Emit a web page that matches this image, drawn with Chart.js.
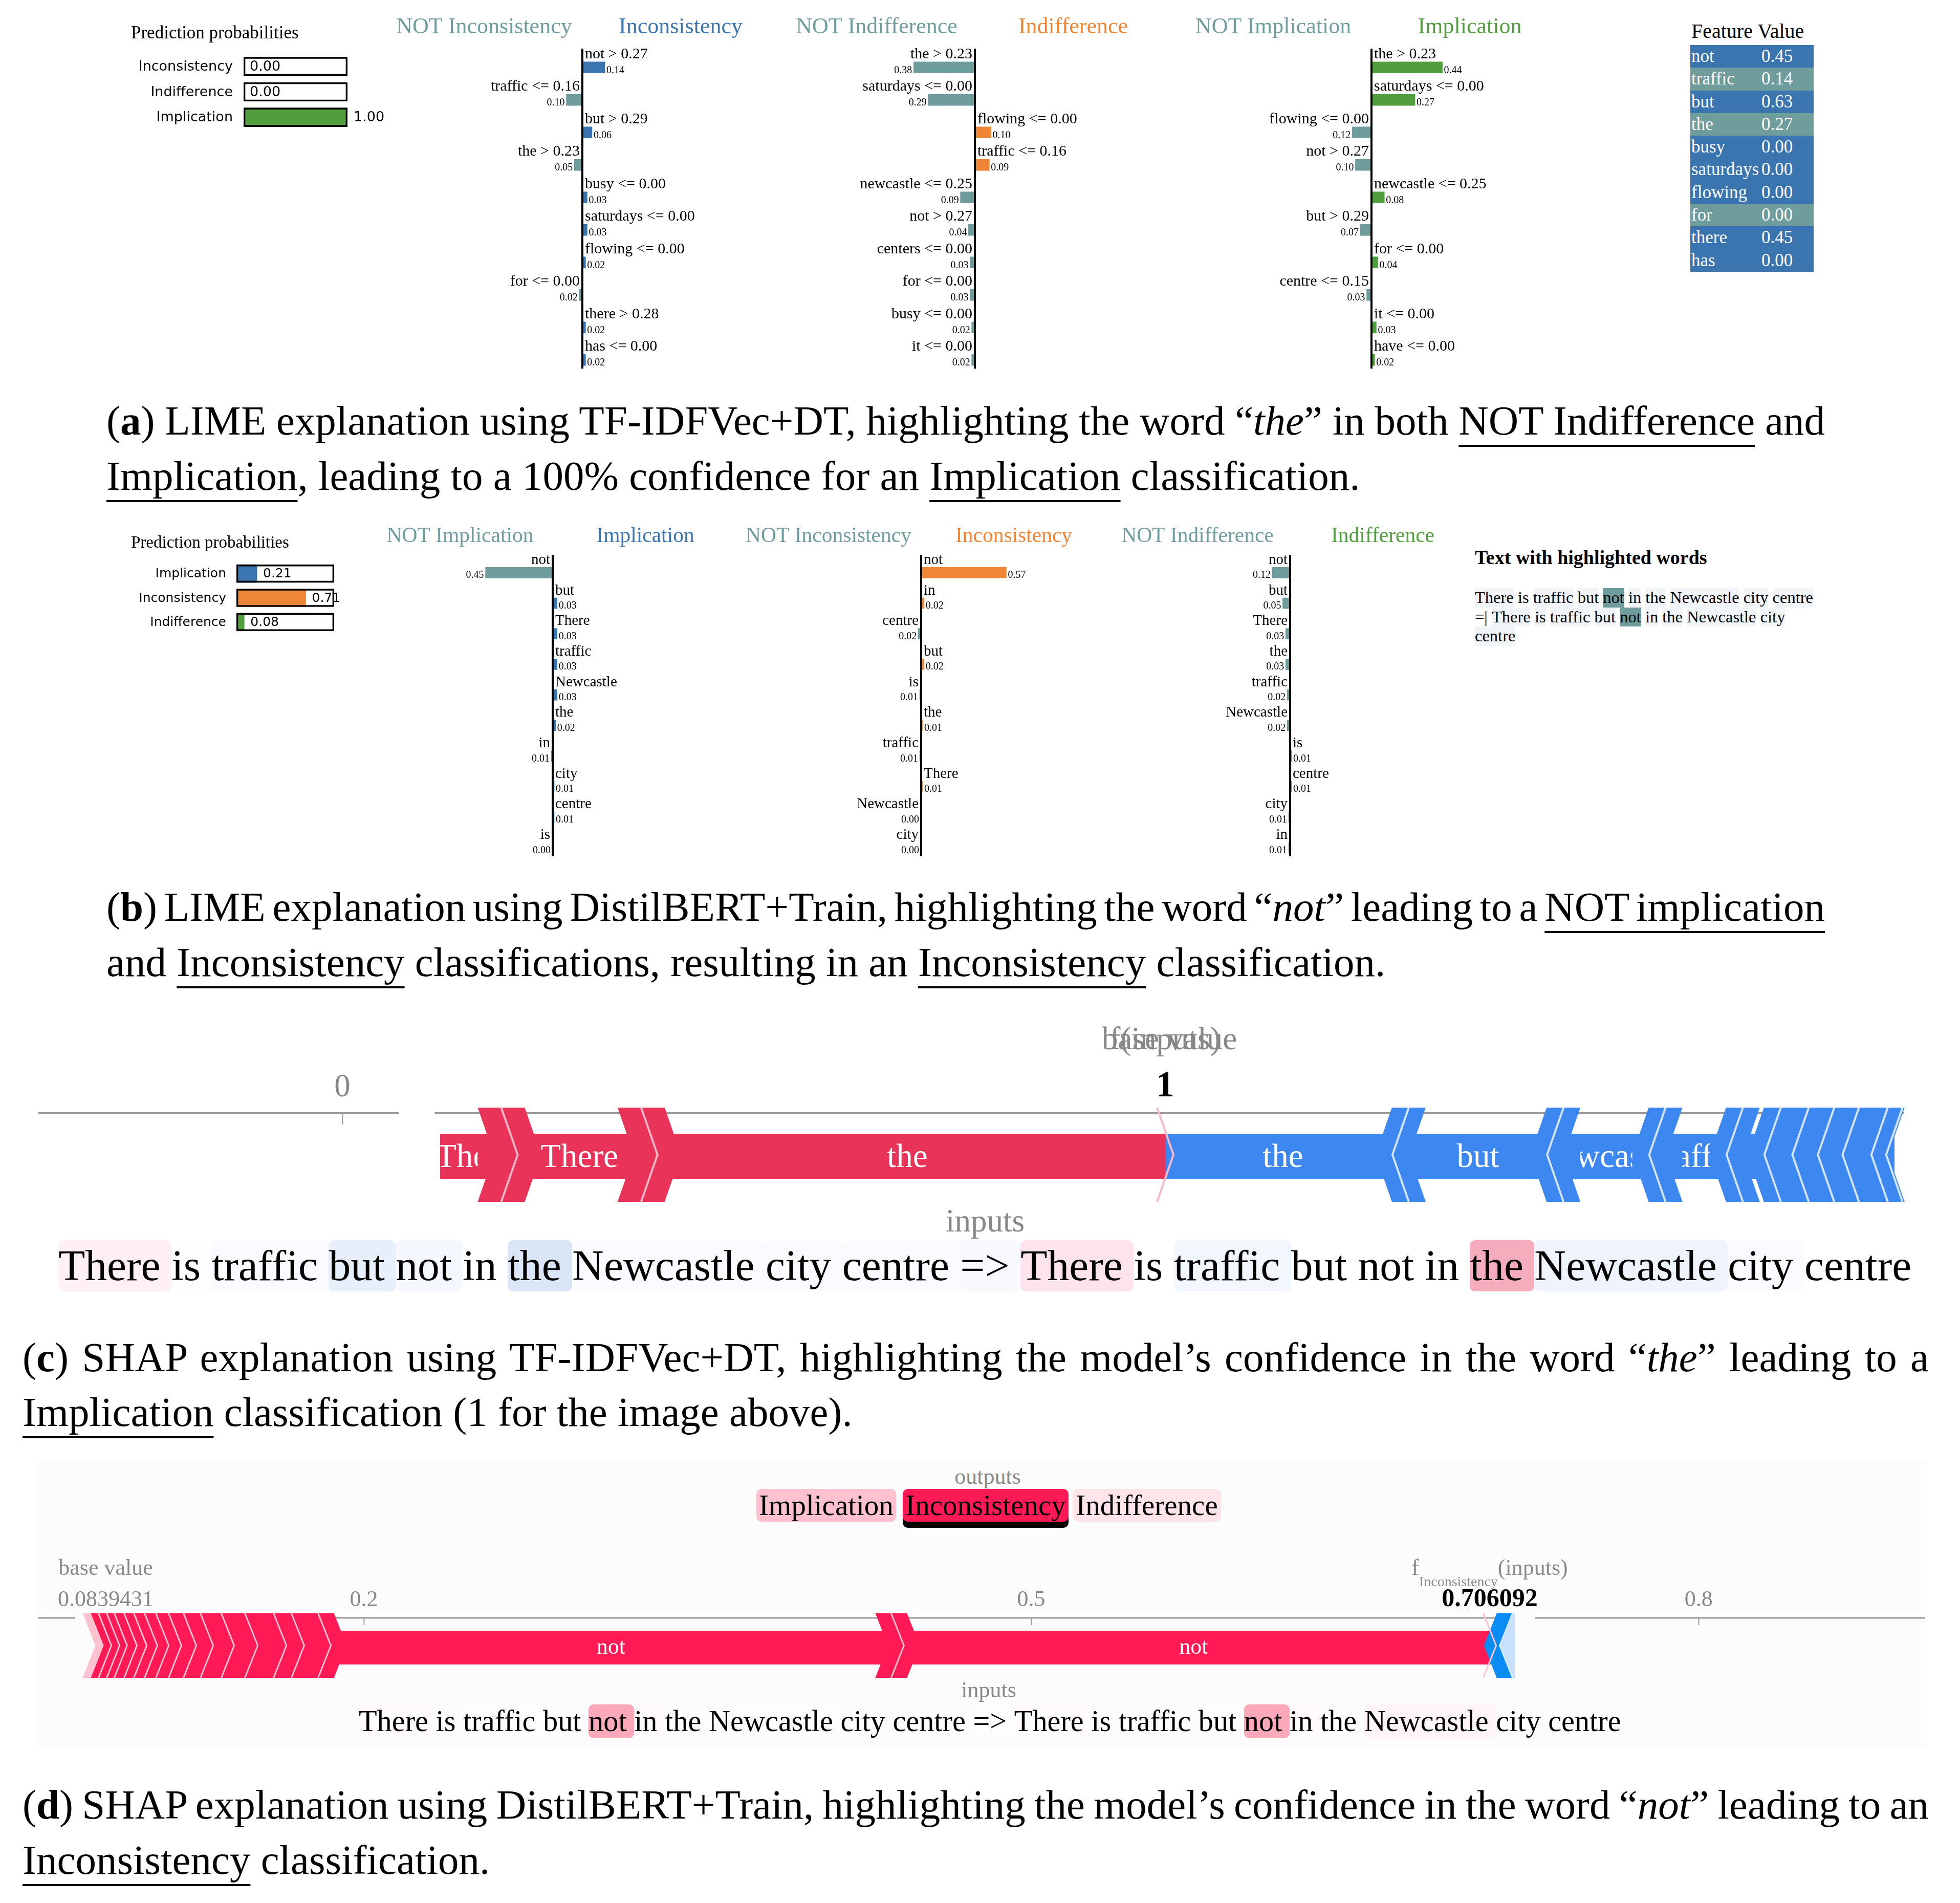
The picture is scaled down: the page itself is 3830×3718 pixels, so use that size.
<!DOCTYPE html>
<html>
<head>
<meta charset="utf-8">
<title>LIME and SHAP explanations</title>
<script src="https://cdn.jsdelivr.net/npm/chart.js@4.4.1/dist/chart.umd.min.js"></script>
<style>
  html, body { margin: 0; padding: 0; background: #fff; }
  body { position: relative; width: 3830px; height: 3718px; overflow: hidden;
         font-family: "Liberation Serif", "Times New Roman", serif; color: #000; }
  canvas { position: absolute; }
  .abs { position: absolute; white-space: nowrap; }
  .cap { position: absolute; white-space: nowrap; font-size: 81px; line-height: 80px; }
  .cap u { text-decoration-thickness: 4px; text-underline-offset: 20px; }
  #featTitle { font-size: 40px; line-height: 40px; }
  #featTable { position: absolute; left: 3303px; top: 88px; width: 241px; color: #fff; font-size: 35px; }
  #featTable div { height: 44.3px; line-height: 44.3px; position: relative; padding-left: 2px; }
  #featTable span { position: absolute; left: 139px; }
  #hlTitle { font-weight: bold; font-size: 38px; line-height: 38px; }
  #hlText { font-size: 32.5px; line-height: 37.5px; }
  #hlText span { display: inline-block; height: 37.5px; }
  .hb { background: #f2f5f8; }
  .hn { background: #6f9c9d; }
  .tok { display: inline-block; white-space: pre; border-radius: 10px; }
  #shapTextC .tok { height: 100px; line-height: 100px; }
  #shapTextD .tok { height: 66px; line-height: 66px; }
  .gray { color: #888; }
  .outBtn { position: absolute; top: 2909px; height: 64px; line-height: 64px; font-size: 57px;
            text-align: center; border-radius: 10px; }
</style>
</head>
<body>

<!-- (a) -->
<canvas id="probA" width="503" height="214" style="left:256px;top:40px"></canvas>
<canvas id="limeA1" width="760" height="720" style="left:758px;top:25px"></canvas>
<canvas id="limeA2" width="760" height="720" style="left:1525px;top:25px"></canvas>
<canvas id="limeA3" width="760" height="720" style="left:2300px;top:25px"></canvas>
<div id="featTitle" class="abs" style="left:3305px;top:41px">Feature Value</div>
<div id="featTable"></div>

<div class="cap just" data-cap="a" style="left:208px;top:782px;width:3358px"><span>(<b>a</b>) LIME explanation using TF-IDFVec+DT, highlighting the word “<i>the</i>” in both <u>NOT Indifference</u> and</span></div>
<div class="cap" data-cap="a" style="left:208px;top:890px"><span><u>Implication</u>, leading to a 100% confidence for an <u>Implication</u> classification.</span></div>

<!-- (b) -->
<canvas id="probB" width="477" height="209" style="left:256px;top:1030px"></canvas>
<canvas id="limeB1" width="720" height="680" style="left:720px;top:1020px"></canvas>
<canvas id="limeB2" width="720" height="680" style="left:1440px;top:1020px"></canvas>
<canvas id="limeB3" width="720" height="680" style="left:2161px;top:1020px"></canvas>
<div id="hlTitle" class="abs" style="left:2882px;top:1070px">Text with highlighted words</div>
<div id="hlText" class="abs" style="left:2882px;top:1149px"><span class="hb">There</span> is <span class="hb">traffic</span> <span class="hb">but</span> <span class="hn">not</span> <span class="hb">in</span> <span class="hb">the</span> <span class="hb">Newcastle</span> <span class="hb">city</span> <span class="hb">centre</span><br>=| <span class="hb">There</span> <span class="hb">is</span> <span class="hb">traffic</span> <span class="hb">but</span> <span class="hn">not</span> <span class="hb">in</span> <span class="hb">the</span> <span class="hb">Newcastle</span> <span class="hb">city</span><br><span class="hb">centre</span></div>

<div class="cap just" data-cap="b" style="left:208px;top:1732px;width:3358px"><span>(<b>b</b>) LIME explanation using DistilBERT+Train, highlighting the word “<i>not</i>” leading to a <u>NOT implication</u></span></div>
<div class="cap" data-cap="b" style="left:208px;top:1840px"><span>and <u>Inconsistency</u> classifications, resulting in an <u>Inconsistency</u> classification.</span></div>

<!-- (c) -->
<canvas id="shapC" width="3830" height="380" style="left:0;top:1990px"></canvas>
<div class="abs gray" style="left:1925px;top:2354px;font-size:63px;line-height:63px;transform:translateX(-50%)">inputs</div>
<div id="shapTextC" class="abs" style="left:114px;top:2423px;font-size:79px"><span class="tok" style="background:#fff0f3">There </span><span class="tok" style="background:#fdfdff">is </span><span class="tok" style="background:#f9fbfe">traffic </span><span class="tok" style="background:#e7effb">but </span><span class="tok" style="background:#f4f7fd">not </span><span class="tok">in </span><span class="tok" style="background:#dae6f8">the </span><span class="tok" style="background:#f9fbfe">Newcastle </span><span class="tok" style="background:#fafbfe">city </span><span class="tok" style="background:#fafbfe">centre </span><span class="tok" style="background:#f7f9fe">=&gt; </span><span class="tok" style="background:#fde4eb">There </span><span class="tok">is </span><span class="tok" style="background:#f2f6fd">traffic </span><span class="tok">but </span><span class="tok">not </span><span class="tok">in </span><span class="tok" style="background:#f5adbd">the </span><span class="tok" style="background:#eef3fc">Newcastle </span><span class="tok" style="background:#f9fbfe">city </span><span class="tok">centre</span></div>

<div class="cap just" data-cap="c" style="left:44px;top:2612px;width:3725px"><span>(<b>c</b>) SHAP explanation using TF-IDFVec+DT, highlighting the model’s confidence in the word “<i>the</i>” leading to a</span></div>
<div class="cap" data-cap="c" style="left:44px;top:2719px"><span><u>Implication</u> classification (1 for the image above).</span></div>

<!-- (d) -->
<div class="abs" style="left:75px;top:2852px;width:3690px;height:563px;background:#fcfcfc"></div>
<div class="abs gray" style="left:1930px;top:2863px;font-size:44px;line-height:44px;transform:translateX(-50%)">outputs</div>
<div class="outBtn" style="left:1478px;width:273px;background:#ffc1cd">Implication</div>
<div class="outBtn" style="left:1764px;width:324px;background:#ff1a55;box-shadow:0 12px 0 0 #000">Inconsistency</div>
<div class="outBtn" style="left:2096px;width:290px;background:#ffe4ea">Indifference</div>
<canvas id="shapD" width="3830" height="300" style="left:0;top:3000px"></canvas>
<div class="abs gray" style="left:1932px;top:3280px;font-size:44px;line-height:44px;transform:translateX(-50%)">inputs</div>
<div id="shapTextD" class="abs" style="left:701px;top:3329px;font-size:54px"><span class="tok" style="background:#fffbfc">There </span><span class="tok">is </span><span class="tok" style="background:#fffcfd">traffic </span><span class="tok">but </span><span class="tok" style="background:#fba8ba">not </span><span class="tok" style="background:#fffafb">in </span><span class="tok">the </span><span class="tok" style="background:#fffcfd">Newcastle </span><span class="tok">city </span><span class="tok">centre </span><span class="tok" style="background:#fffcfd">=&gt; </span><span class="tok" style="background:#fffafb">There </span><span class="tok">is </span><span class="tok">traffic </span><span class="tok" style="background:#fffcfd">but </span><span class="tok" style="background:#fba8ba">not </span><span class="tok" style="background:#fffafb">in </span><span class="tok">the </span><span class="tok" style="background:#fff5f7">Newcastle </span><span class="tok">city </span><span class="tok">centre</span></div>

<div class="cap just" data-cap="d" style="left:44px;top:3486px;width:3725px"><span>(<b>d</b>) SHAP explanation using DistilBERT+Train, highlighting the model’s confidence in the word “<i>not</i>” leading to an</span></div>
<div class="cap" data-cap="d" style="left:44px;top:3594px"><span><u>Inconsistency</u> classification.</span></div>

<script>
// ---------- (a) LIME, TF-IDFVec+DT ----------
const probA_classes = ["Inconsistency", "Indifference", "Implication"];
const probA_values = [0.00, 0.00, 1.00];

const limeA1_features = ["not > 0.27", "traffic <= 0.16", "but > 0.29", "the > 0.23", "busy <= 0.00",
                         "saturdays <= 0.00", "flowing <= 0.00", "for <= 0.00", "there > 0.28", "has <= 0.00"];
const limeA1_values = [0.14, -0.10, 0.06, -0.05, 0.03, 0.03, 0.02, -0.02, 0.02, 0.02];

const limeA2_features = ["the > 0.23", "saturdays <= 0.00", "flowing <= 0.00", "traffic <= 0.16", "newcastle <= 0.25",
                         "not > 0.27", "centers <= 0.00", "for <= 0.00", "busy <= 0.00", "it <= 0.00"];
const limeA2_values = [-0.38, -0.29, 0.10, 0.09, -0.09, -0.04, -0.03, -0.03, -0.02, -0.02];

const limeA3_features = ["the > 0.23", "saturdays <= 0.00", "flowing <= 0.00", "not > 0.27", "newcastle <= 0.25",
                         "but > 0.29", "for <= 0.00", "centre <= 0.15", "it <= 0.00", "have <= 0.00"];
const limeA3_values = [0.44, 0.27, -0.12, -0.10, 0.08, -0.07, 0.04, -0.03, 0.03, 0.02];

const tableA_features = ["not", "traffic", "but", "the", "busy", "saturdays", "flowing", "for", "there", "has"];
const tableA_values = [0.45, 0.14, 0.63, 0.27, 0.00, 0.00, 0.00, 0.00, 0.45, 0.00];

// ---------- (b) LIME, DistilBERT+Train ----------
const probB_classes = ["Implication", "Inconsistency", "Indifference"];
const probB_values = [0.21, 0.71, 0.08];

const limeB1_words = ["not", "but", "There", "traffic", "Newcastle", "the", "in", "city", "centre", "is"];
const limeB1_values = [-0.45, 0.03, 0.03, 0.03, 0.03, 0.02, -0.01, 0.01, 0.01, -0.003];

const limeB2_words = ["not", "in", "centre", "but", "is", "the", "traffic", "There", "Newcastle", "city"];
const limeB2_values = [0.57, 0.02, -0.02, 0.02, -0.01, 0.01, -0.01, 0.01, -0.003, -0.003];

const limeB3_words = ["not", "but", "There", "the", "traffic", "Newcastle", "is", "centre", "city", "in"];
const limeB3_values = [-0.12, -0.05, -0.03, -0.03, -0.02, -0.02, 0.01, 0.01, -0.01, -0.01];

// ---------- (c) SHAP force plot, TF-IDFVec+DT ----------
const shapC_output = 1;
const shapC_posTokens = ["There", "There", "the"];                  // red, left to right
const shapC_posValues = [0.084, 0.170, 0.627];
const shapC_negTokens = ["the", "but", "Newcastle", "traffic", "city", "centre", "is", "in", "not", "There"]; // blue, from f(x) rightwards
const shapC_negValues = [0.286, 0.188, 0.124, 0.094, 0.046, 0.034, 0.031, 0.030, 0.035, 0.018];
const shapC_ticks = [0];

// ---------- (d) SHAP force plot, DistilBERT+Train ----------
const shapD_base = 0.0839431;
const shapD_output = 0.706092;
const shapD_posTokens = ["There", "traffic", "but", "in", "the", "Newcastle", "city", "centre", "=>",
                         "There", "is", "traffic", "but", "in", "the", "not", "not"];
const shapD_posValues = [0.0041, 0.0037, 0.0034, 0.0044, 0.0044, 0.0048, 0.0051, 0.0057, 0.0067,
                         0.0076, 0.0094, 0.0106, 0.0129, 0.0080, 0.0120, 0.2576, 0.2662];
const shapD_negTokens = ["Newcastle", "city"];
const shapD_negValues = [0.0074, 0.0039];
const shapD_ticks = [0.2, 0.5, 0.8];

// ---------- styles ----------
const C_NOT = "#6f9c9d", C_BLUE = "#3b75af", C_ORANGE = "#ef8636", C_GREEN = "#529e3f";
const SERIF = '"Liberation Serif", "Times New Roman", serif';

Chart.defaults.animation = false;
Chart.defaults.responsive = false;
Chart.defaults.devicePixelRatio = 1;
Chart.defaults.events = [];
Chart.defaults.font.family = SERIF;
Chart.defaults.plugins.legend.display = false;
Chart.defaults.plugins.tooltip.enabled = false;


// Prediction probabilities
function probChart(id, classes, values, colors, o) {
    new Chart(document.getElementById(id), {
        type: 'bar',
        data: {
            labels: classes,
            datasets: [
                { data: values, backgroundColor: colors, borderWidth: 0, barThickness: o.barH, grouped: false, order: 2 },
                { data: classes.map(function () { return 1; }), backgroundColor: 'rgba(0,0,0,0)', borderColor: '#000',
                  borderWidth: 3, borderSkipped: false, barThickness: o.barH, grouped: false, order: 1 }
            ]
        },
        options: {
            indexAxis: 'y',
            layout: { padding: { top: o.padTop, right: o.padRight, bottom: 0, left: o.axisW } },
            scales: { x: { display: false, min: 0, max: 1 }, y: { display: false } }
        },
        plugins: [{
            id: 'probText',
            afterDatasetsDraw: function (chart) {
                const ctx = chart.ctx;
                const left = chart.chartArea.left;
                ctx.save();
                ctx.fillStyle = '#000';
                ctx.textAlign = 'left';
                ctx.textBaseline = 'middle';
                ctx.font = o.titleSize + 'px ' + SERIF;
                ctx.fillText('Prediction probabilities', 0, o.titleY);
                ctx.font = o.labelSize + 'px "DejaVu Sans"';
                chart.getDatasetMeta(0).data.forEach(function (bar, i) {
                    ctx.textAlign = 'right';
                    ctx.fillText(classes[i], left - o.tickPad, bar.y + 1);
                    ctx.textAlign = 'left';
                    ctx.fillText(values[i].toFixed(2), bar.x + 12, bar.y + 1);
                });
                ctx.restore();
            }
        }]
    });
}


// LIME explanation bars (NOT class on the left, class on the right)
function limeChart(id, labels, values, cls, color, o) {
    const half = o.halfWidth / o.pxPerUnit;
    new Chart(document.getElementById(id), {
        type: 'bar',
        data: {
            labels: labels,
            datasets: [{
                data: values,
                backgroundColor: values.map(function (v) { return v >= 0 ? color : C_NOT; }),
                borderWidth: 0,
                barThickness: o.barH
            }]
        },
        options: {
            indexAxis: 'y',
            layout: { padding: { top: o.padTop, bottom: o.padBottom, left: 0, right: 0 } },
            scales: { x: { display: false, min: -half, max: half }, y: { display: false } }
        },
        plugins: [{
            id: 'limeText',
            afterDatasetsDraw: function (chart) {
                const ctx = chart.ctx;
                const x0 = chart.scales.x.getPixelForValue(0);
                const bars = chart.getDatasetMeta(0).data;
                const last = bars[bars.length - 1];
                const top = chart.chartArea.top - 5;
                ctx.save();
                ctx.fillStyle = '#000';
                ctx.fillRect(x0 - 2, top, 4, last.y + last.height / 2 + 6 - top);

                ctx.textAlign = 'center';
                ctx.textBaseline = 'middle';
                ctx.font = o.headFont + 'px ' + SERIF;
                ctx.fillStyle = C_NOT;
                ctx.fillText('NOT ' + cls, x0 - o.headOffset, o.headY);
                ctx.fillStyle = color;
                ctx.fillText(cls, x0 + o.headOffset, o.headY);

                ctx.fillStyle = '#000';
                ctx.textBaseline = 'alphabetic';
                bars.forEach(function (bar, i) {
                    const pos = values[i] >= 0;
                    ctx.textAlign = pos ? 'left' : 'right';
                    ctx.font = o.labelFont + 'px ' + SERIF;
                    ctx.fillText(labels[i], x0 + (pos ? 5 : -5), bar.y - o.labelRise);
                    ctx.font = '20px ' + SERIF;
                    ctx.fillText(Math.abs(values[i]).toFixed(2), bar.x + (pos ? 3 : -3), bar.y + bar.height / 2);
                });
                ctx.restore();
            }
        }]
    });
}


// SHAP force plot
function shapChart(id, output, posTokens, posValues, negTokens, negValues, ticks, base, o) {
    const sum = function (a) { return a.reduce(function (s, v) { return s + v; }, 0); };
    const sumPos = sum(posValues), sumNeg = sum(negValues);
    if (base === null) base = output - sumPos + sumNeg;

    const pos = [], neg = [];
    let s = output - sumPos;
    posValues.forEach(function (v, i) {
        pos.push({ a: s, b: s + v, tok: posTokens[i], color: (i === 0 && o.posFirst) ? o.posFirst : o.posColor });
        s += v;
    });
    s = output;
    negValues.forEach(function (v, i) {
        neg.push({ a: s, b: s + v, tok: negTokens[i], color: o.negColors[i] || o.negColors[0] });
        s += v;
    });
    const chainStart = output - sumPos, chainEnd = output + sumNeg;
    const segs = pos.concat(neg);
    const hPos = o.stripeW / 2, hNeg = o.negStripeW / 2;

    function halfStripe(ctx, st, right, color, yT, yM, yB) {
        if (!color) return;
        const X = st.X, D = st.D, h = st.h;
        const off = right ? h : 0;
        ctx.fillStyle = color;
        ctx.beginPath();
        ctx.moveTo(X - D / 2 - h + off, yT);
        ctx.lineTo(X - D / 2 + off, yT);
        ctx.lineTo(X + D / 2 + off, yM);
        ctx.lineTo(X - D / 2 + off, yB);
        ctx.lineTo(X - D / 2 - h + off, yB);
        ctx.lineTo(X + D / 2 - h + off, yM);
        ctx.closePath();
        ctx.fill();
    }

    function sepLine(ctx, X, D, color, yT, yM, yB) {
        ctx.strokeStyle = color;
        ctx.lineWidth = o.sepW;
        ctx.beginPath();
        ctx.moveTo(X - D / 2, yT);
        ctx.lineTo(X + D / 2, yM);
        ctx.lineTo(X - D / 2, yB);
        ctx.stroke();
    }

    new Chart(document.getElementById(id), {
        type: 'bar',
        data: {
            labels: [''],
            datasets: segs.map(function (g) {
                return { data: [[g.a, g.b]], backgroundColor: g.color, borderWidth: 0,
                         barPercentage: 1, categoryPercentage: 1, grouped: false };
            })
        },
        options: {
            indexAxis: 'y',
            layout: { padding: { top: o.padTop, bottom: o.padBottom, left: 0, right: 0 } },
            scales: { x: { display: false, min: o.min, max: o.max }, y: { display: false } }
        },
        plugins: [{
            id: 'shapForce',
            beforeDatasetsDraw: function (chart) {
                const ctx = chart.ctx, xs = chart.scales.x;
                const px = function (v) { return xs.getPixelForValue(v); };
                const startPx = px(chainStart), endPx = px(chainEnd);
                let runs = [[o.axisFrom, o.axisTo]];
                o.gaps.forEach(function (g) {
                    const ref = g[0] === 'start' ? startPx : endPx;
                    const ga = ref + g[1], gb = ref + g[2];
                    runs = runs.flatMap(function (r) {
                        const out = [];
                        if (ga > r[0]) out.push([r[0], Math.min(r[1], ga)]);
                        if (gb < r[1]) out.push([Math.max(r[0], gb), r[1]]);
                        return out;
                    });
                });
                ctx.save();
                ctx.strokeStyle = '#999';
                ctx.lineWidth = o.axisW;
                ctx.beginPath();
                runs.forEach(function (r) { ctx.moveTo(r[0], o.axisY); ctx.lineTo(r[1], o.axisY); });
                ctx.stroke();
                ctx.lineWidth = 2;
                ctx.beginPath();
                ticks.forEach(function (t) {
                    const p = Math.round(px(t)) + 0.5;
                    ctx.moveTo(p, o.axisY);
                    ctx.lineTo(p, o.axisY + o.tickLen);
                });
                ctx.stroke();

                ctx.fillStyle = '#888';
                ctx.textAlign = 'center';
                ctx.textBaseline = 'alphabetic';
                ctx.font = o.fontSize + 'px ' + SERIF;
                ticks.forEach(function (t) { ctx.fillText(String(t), px(t), o.tickY); });
                if (o.showBase) ctx.fillText(String(base), px(base), o.tickY);
                ctx.fillText('base value', px(base), o.titleY);

                // f(inputs) label, optionally with a subscript
                const wF = ctx.measureText('f').width, wIn = ctx.measureText('(inputs)').width;
                ctx.font = o.subSize + 'px ' + SERIF;
                const wSub = o.sub ? ctx.measureText(o.sub).width : 0;
                let x = px(output) - (wF + wSub + wIn) / 2;
                ctx.textAlign = 'left';
                ctx.font = o.fontSize + 'px ' + SERIF;
                ctx.fillText('f', x, o.titleY);
                x += wF;
                if (o.sub) {
                    ctx.font = o.subSize + 'px ' + SERIF;
                    ctx.fillText(o.sub, x, o.titleY + o.subDrop);
                    x += wSub;
                    ctx.font = o.fontSize + 'px ' + SERIF;
                }
                ctx.fillText('(inputs)', x, o.titleY);

                ctx.textAlign = 'center';
                ctx.fillStyle = '#000';
                ctx.font = 'bold ' + o.outSize + 'px ' + SERIF;
                ctx.fillText(String(output), px(output), o.tickY);
                ctx.restore();
            },
            afterDatasetsDraw: function (chart) {
                const ctx = chart.ctx, xs = chart.scales.x, area = chart.chartArea;
                const px = function (v) { return xs.getPixelForValue(v); };
                const yT = area.top - o.extTop, yB = area.bottom + o.extBottom, yM = (yT + yB) / 2;
                const stripes = [];
                for (let i = 0; i < pos.length - 1; i++)
                    stripes.push({ X: px(pos[i].b), D: o.tip, h: hPos, L: pos[i].color, R: pos[i + 1].color, sep: o.posSep });
                for (let i = 0; i < neg.length - 1; i++)
                    stripes.push({ X: px(neg[i].b), D: -o.tip, h: hNeg, L: neg[i].color, R: neg[i + 1].color, sep: o.negSep });
                if (o.outerEnd)
                    stripes.push({ X: px(neg[neg.length - 1].b), D: -o.tip, h: hNeg, L: neg[neg.length - 1].color, R: null, sep: o.negSep });

                ctx.save();
                const clipL = px(chainStart) - hPos - o.tip;
                const clipR = o.outerEnd ? chart.width : px(chainEnd);
                ctx.beginPath();
                ctx.rect(clipL, 0, clipR - clipL, chart.height);
                ctx.clip();
                stripes.forEach(function (st) {
                    halfStripe(ctx, st, false, st.L, yT, yM, yB);
                    halfStripe(ctx, st, true, st.R, yT, yM, yB);
                });
                stripes.forEach(function (st) { sepLine(ctx, st.X, st.D, st.sep, yT, yM, yB); });
                sepLine(ctx, px(output), o.tip, o.outSep, yT, yM, yB);
                ctx.restore();

                // feature labels centred on the segment, clipped to its visible part
                const inPos = hPos + o.tip / 2, inNeg = hNeg + o.tip / 2;
                ctx.save();
                ctx.fillStyle = '#fff';
                ctx.textAlign = 'center';
                ctx.textBaseline = 'alphabetic';
                ctx.font = o.labelSize + 'px ' + SERIF;
                const bandMid = (area.top + area.bottom) / 2;
                function label(g, insetL, insetR) {
                    const l = px(g.a) + insetL, r = px(g.b) - insetR;
                    if (r - l < 4) return;
                    ctx.save();
                    ctx.beginPath();
                    ctx.rect(l, area.top, r - l, area.bottom - area.top);
                    ctx.clip();
                    ctx.fillText(g.tok, (px(g.a) + px(g.b)) / 2, bandMid + o.labelSize * o.labelDrop);
                    ctx.restore();
                }
                pos.forEach(function (g, i) {
                    label(g, i > 0 ? inPos : 0, i < pos.length - 1 ? inPos : 0);
                });
                neg.forEach(function (g, i) {
                    label(g, i > 0 ? inNeg : 0, (i < neg.length - 1 || o.outerEnd) ? inNeg : 0);
                });
                ctx.restore();
            }
        }]
    });
}


// ---- (a) ----
probChart('probA', probA_classes, probA_values, [C_BLUE, C_ORANGE, C_GREEN],
          { barH: 37, padTop: 65, padRight: 80, axisW: 220, tickPad: 21, labelSize: 27, titleY: 26, titleSize: 35 });

const limeOptsA = { barH: 22, padTop: 75, padBottom: 10, pxPerUnit: 315, halfWidth: 380,
                    headY: 28, headOffset: 192, headFont: 44, labelFont: 30, labelRise: 18 };
limeChart('limeA1', limeA1_features, limeA1_values, 'Inconsistency', C_BLUE, limeOptsA);
limeChart('limeA2', limeA2_features, limeA2_values, 'Indifference', C_ORANGE, limeOptsA);
limeChart('limeA3', limeA3_features, limeA3_values, 'Implication', C_GREEN, limeOptsA);

// feature value table, rows coloured like the first LIME chart
const table = document.getElementById('featTable');
tableA_features.forEach(function (f, i) {
    const row = document.createElement('div');
    row.style.background = limeA1_values[i] >= 0 ? C_BLUE : C_NOT;
    row.textContent = f;
    const v = document.createElement('span');
    v.textContent = tableA_values[i].toFixed(2);
    row.appendChild(v);
    table.appendChild(row);
});

// ---- (b) ----
probChart('probB', probB_classes, probB_values, [C_BLUE, C_ORANGE, C_GREEN],
          { barH: 35, padTop: 67, padRight: 80, axisW: 206, tickPad: 20, labelSize: 25, titleY: 31, titleSize: 33 });

const limeOptsB = { barH: 21, padTop: 69, padBottom: 14, pxPerUnit: 292, halfWidth: 360,
                    headY: 28, headOffset: 181, headFont: 41.5, labelFont: 29, labelRise: 17 };
limeChart('limeB1', limeB1_words, limeB1_values, 'Implication', C_BLUE, limeOptsB);
limeChart('limeB2', limeB2_words, limeB2_values, 'Inconsistency', C_ORANGE, limeOptsB);
limeChart('limeB3', limeB3_words, limeB3_values, 'Indifference', C_GREEN, limeOptsB);

// ---- (c) ----
shapChart('shapC', shapC_output, shapC_posTokens, shapC_posValues, shapC_negTokens, shapC_negValues, shapC_ticks, null, {
    min: -669 / 1608, max: (3830 - 669) / 1608,
    padTop: 225, padBottom: 67, extTop: 51, extBottom: 45,
    posColor: '#ea3358', posFirst: null, negColors: ['#3d88f0'],
    posSep: '#f7b6c6', negSep: '#d2e4fb', outSep: '#f4b9cc', sepW: 4,
    stripeW: 92, negStripeW: 66, tip: 32, outerEnd: true,
    axisY: 185, axisW: 4, axisFrom: 75, axisTo: 3720, gaps: [['start', -81, -11]], tickLen: 22,
    fontSize: 63, outSize: 71, subSize: 40, sub: '', subDrop: 0,
    titleY: 60, tickY: 152, showBase: false, labelSize: 65, labelDrop: 0.32
});

// ---- (d) ----
shapChart('shapD', shapD_output, shapD_posTokens, shapD_posValues, shapD_negTokens, shapD_negValues, shapD_ticks, shapD_base, {
    min: 158.4 / 4347, max: (3830 + 158.4) / 4347,
    padTop: 186, padBottom: 48, extTop: 34, extBottom: 26,
    posColor: '#ff1a55', posFirst: '#ffc2d0', negColors: ['#0a8cf5', '#c8e1fa'],
    posSep: '#ffc4d2', negSep: '#d6e8fb', outSep: '#ffc4d2', sepW: 3,
    stripeW: 62, negStripeW: 62, tip: 25, outerEnd: false,
    axisY: 161, axisW: 3, axisFrom: 75, axisTo: 3762, gaps: [['start', -40, 0], ['end', 0, 40]], tickLen: 14,
    fontSize: 44, outSize: 50, subSize: 28, sub: 'Inconsistency', subDrop: 22,
    titleY: 77, tickY: 138, showBase: true, labelSize: 44, labelDrop: 0.27
});


// ---- captions: full lines justified by word spacing; a caption only shrinks if its full line cannot fit ----
(function () {
    const base = 81;
    document.querySelectorAll('.cap.just').forEach(function (el) {
        const span = el.firstElementChild;
        const target = parseFloat(el.style.width);
        const gaps = span.textContent.split(' ').length - 1;
        let w = span.getBoundingClientRect().width;
        let size = base;
        if (w - gaps * 9 > target) {            // allow some interword shrink before scaling the font
            size = Math.floor(base * (target + gaps * 9) / w);
            document.querySelectorAll('.cap[data-cap="' + el.dataset.cap + '"]').forEach(function (c) {
                c.style.fontSize = size + 'px';
            });
            w = span.getBoundingClientRect().width;
        }
        span.style.wordSpacing = ((target - w) / gaps) + 'px';
    });
})();

// ---- SHAP token lines scaled to their measured width ----
function fitLine(id, target) {
    const el = document.getElementById(id);
    const size = parseFloat(el.style.fontSize);
    const w = el.getBoundingClientRect().width;
    el.style.fontSize = (size * target / w) + 'px';
}
fitLine('shapTextC', 3622);
fitLine('shapTextD', 2467);
</script>
</body>
</html>
